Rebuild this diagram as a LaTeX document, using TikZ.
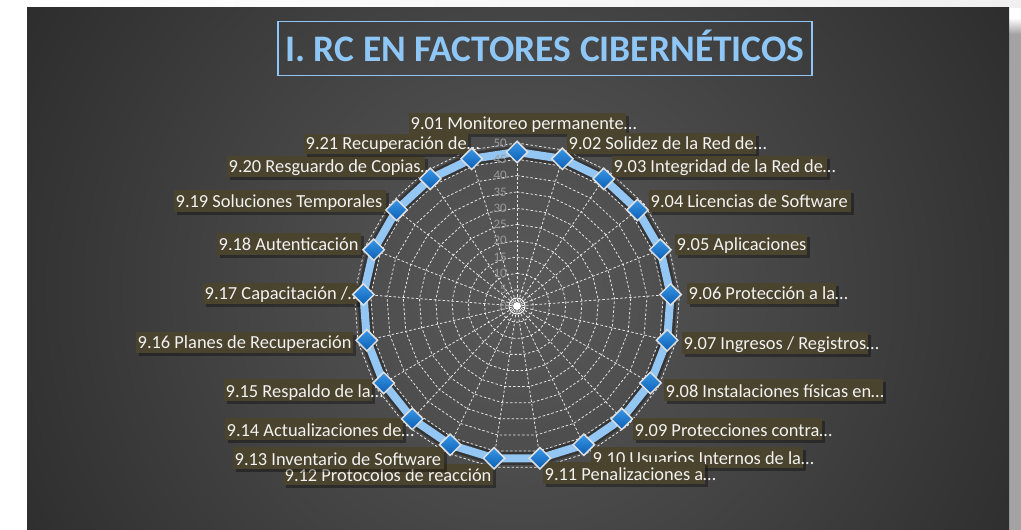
\documentclass[tikz,border=0pt]{standalone}
\usepackage{fontspec}
\setmainfont{Carlito}
\usetikzlibrary{shapes.geometric}
\definecolor{panelin}{HTML}{5A5A5A}
\definecolor{panelout}{HTML}{292929}
\definecolor{titleblue}{HTML}{8EC6F6}
\definecolor{lblbg}{HTML}{4A432E}
\definecolor{lineblue}{HTML}{93C6F2}
\definecolor{mkTop}{HTML}{3A97E6}
\definecolor{mkBot}{HTML}{0A5EB4}
\definecolor{axisgray}{HTML}{9A9A9A}
\definecolor{lbltxt}{HTML}{F2F2F2}
\tikzset{
  gridl/.style={white, dash pattern=on 2.5bp off 2bp, line width=0.8bp, opacity=0.85},
  lblbox/.style={fill=lblbg},
  lblshadow/.style={fill=black, opacity=0.35},
  lbltext/.style={anchor=base west, inner sep=0, text=lbltxt, font=\fontsize{18.4bp}{20bp}\selectfont},
  mkr/.style={diamond, minimum width=22bp, minimum height=22bp, inner sep=0, top color=mkTop, bottom color=mkBot, draw=gray!25, line width=1.5bp},
  axlbl/.style={anchor=east, inner sep=0, text=axisgray, font=\fontsize{13bp}{13bp}\selectfont},
}
\newcommand\lbl[6]{%
  \fill[lblshadow] (#2+3,#3+3) rectangle (#4+3,#5+3);
  \fill[lblbox] (#2,#3) rectangle (#4,#5);
  \node[lbltext] (#1) at (#2+1.5,#5-4) {#6};}
\begin{document}
\begin{tikzpicture}[x=1bp,y=-1bp]
\useasboundingbox (0,0) rectangle (1021,530);
% page background
\fill[white] (0,0) rectangle (1021,530);
\shade[left color=white, right color=gray!12] (0,0) rectangle (1021,8);
\shade[top color=white, bottom color=gray!72] (1009,18) rectangle (1021,34);
\fill[gray!72] (1009,34) rectangle (1021,530);
\begin{scope}
  \clip (27,8) rectangle (1009,530);
  \shade[inner color=panelin, outer color=panelout] (520,290) circle (620);
\end{scope}
% title
\node[draw=titleblue, line width=1.5bp, minimum width=534bp, minimum height=54bp, inner sep=0] (titlebox) at (545,48.5) {};
\node[anchor=base, inner sep=0, text=titleblue, font=\bfseries\fontsize{37.5bp}{40bp}\selectfont] (title) at (545,61.5) {I. RC EN FACTORES CIBERNÉTICOS};
% radar chart
\begin{scope}[shift={(517,306)}]
  \foreach \k in {1,...,10}{
    \draw[gridl] (-90:{16.3*\k}) \foreach \i in {1,...,20}{ -- ({\i*360/21-90}:{16.3*\k}) } -- cycle;
  }
  \foreach \i in {0,...,20}{ \draw[gridl] (0,0) -- ({\i*360/21-90}:163); }
  \fill[white] (0,0) circle (4bp);
  \draw[white, line width=1bp] (0,0) circle (8bp);
  \foreach \i in {0,...,20}{ \coordinate (d\i) at ({\i*360/21-90}:154); }
  \draw[black, opacity=0.3, line width=13bp, line join=round, shift={(1.5,2.5)}] (d0) \foreach \i in {1,...,20}{ -- (d\i) } -- cycle;
  \draw[lineblue, line width=8bp, line join=round] (d0) \foreach \i in {1,...,20}{ -- (d\i) } -- cycle;
  \foreach \k [evaluate=\k as \v using int(5*\k)] in {0,...,10}{
    \node[axlbl] (ax\k) at (-10,{-16.3*\k}) {\v};
  }
\end{scope}
% category labels
\lbl{L01}{409}{113}{626}{134}{9.01 Monitoreo permanente…}
\lbl{L02}{567}{133}{756}{154}{9.02 Solidez de la Red de…}
\lbl{L03}{612}{156}{827}{177}{9.03 Integridad de la Red de…}
\lbl{L04}{649}{190}{851}{212}{9.04 Licencias de Software}
\lbl{L05}{675}{234}{807}{255}{9.05 Aplicaciones}
\lbl{L06}{687}{283}{836}{304}{9.06 Protección a la…}
\lbl{L07}{682}{332}{868}{354}{9.07 Ingresos / Registros…}
\lbl{L08}{664}{379}{883}{401}{9.08 Instalaciones físicas en…}
\lbl{L09}{633}{418}{822}{440}{9.09 Protecciones contra…}
\lbl{L10}{591}{447}{803}{468}{9.10 Usuarios Internos de la…}
\lbl{L11}{543}{462}{705}{484}{9.11 Penalizaciones a…}
\lbl{L12}{283}{464}{493}{485}{9.12 Protocolos de reacción}
\lbl{L13}{233}{447}{444}{469}{9.13 Inventario de Software}
\lbl{L14}{225}{418}{403}{440}{9.14 Actualizaciones de…}
\lbl{L15}{224}{379}{372}{401}{9.15 Respaldo de la…}
\lbl{L16}{136}{332}{353}{353}{9.16 Planes de Recuperación}
\lbl{L17}{203}{283}{357}{304}{9.17 Capacitación /…}
\lbl{L18}{217}{233}{361}{255}{9.18 Autenticación}
\lbl{L19}{174}{190}{386}{212}{9.19 Soluciones Temporales}
\lbl{L20}{227}{156}{425}{177}{9.20 Resguardo de Copias…}
\lbl{L21}{304}{134}{468}{154}{9.21 Recuperación de…}
% markers
\foreach \i in {0,...,20}{ \node[mkr] (m\i) at (d\i) {}; }
\end{tikzpicture}
\end{document}
